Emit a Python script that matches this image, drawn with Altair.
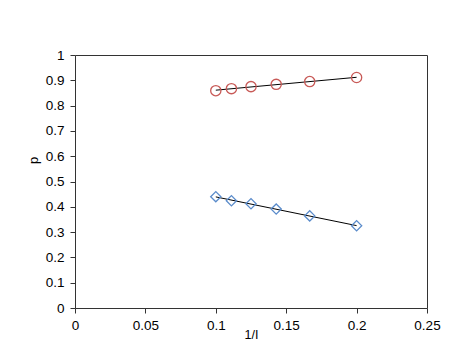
import altair as alt
import pandas as pd

inv_i = [0.1, 0.1111, 0.125, 0.1429, 0.1667, 0.2]
p_upper = [0.859, 0.867, 0.875, 0.884, 0.895, 0.911]
p_lower = [0.440, 0.424, 0.412, 0.391, 0.364, 0.325]
series = ["upper", "lower"]
x_ticks = [0, 0.05, 0.1, 0.15, 0.2, 0.25]
y_ticks = [0, 0.1, 0.2, 0.3, 0.4, 0.5, 0.6, 0.7, 0.8, 0.9, 1]

df = pd.DataFrame({
    "x": inv_i * 2,
    "p": p_upper + p_lower,
    "s": [series[0]] * len(inv_i) + [series[1]] * len(inv_i),
})

font = "Liberation Sans"
ink = "#333"


def xs():
    return alt.Scale(domain=[0, 0.25], nice=False, zero=False)


def ys():
    return alt.Scale(domain=[0, 1], nice=False, zero=False)


xax = alt.Axis(values=x_ticks, format="~g", grid=False,
               tickSize=5, labelPadding=5, domainColor=ink, tickColor=ink,
               labelFont=font, labelFontSize=13.5, labelColor="#000", labelOverlap=False,
               labelFlush=False,
               title="1/I", titleFont=font, titleFontSize=12.5, titleFontWeight="normal",
               titleY=30, titleBaseline="alphabetic", titleColor="#000")
yax = alt.Axis(values=y_ticks, format="~g", grid=False,
               tickSize=5, labelPadding=6, domainColor=ink, tickColor=ink,
               labelFont=font, labelFontSize=13.5, labelColor="#000", labelOverlap=False,
               labelFlush=False,
               title="p", titleFont=font, titleFontSize=13, titleFontWeight="normal",
               titleX=-42, titleY=105, titleAngle=-90, titleAlign="center",
               titleBaseline="middle", titleColor="#000")

base = alt.Chart(df)

lines = base.transform_regression("x", "p", groupby=["s"]).mark_line(
    color="#000", strokeWidth=1
).encode(
    x=alt.X("x:Q", scale=xs(), axis=xax),
    y=alt.Y("p:Q", scale=ys(), axis=yax),
    detail="s:N",
)

upper = base.transform_filter(alt.datum.s == "upper").mark_point(
    shape="circle", size=105, color="#C85A57", strokeWidth=1.3, filled=False, opacity=1
).encode(x=alt.X("x:Q", scale=xs(), axis=None), y=alt.Y("p:Q", scale=ys(), axis=None))

lower = base.transform_filter(alt.datum.s == "lower").mark_point(
    shape="diamond", size=105, color="#5B8CCB", strokeWidth=1.3, filled=False, opacity=1
).encode(x=alt.X("x:Q", scale=xs(), axis=None), y=alt.Y("p:Q", scale=ys(), axis=None))

frame = base.mark_point(opacity=0).encode(
    x=alt.X("x:Q", scale=xs(), axis=alt.Axis(orient="top", labels=False, ticks=False,
                                              title=None, grid=False, domainColor=ink)),
    y=alt.Y("p:Q", scale=ys(), axis=alt.Axis(orient="right", labels=False, ticks=False,
                                              title=None, grid=False, domainColor=ink)),
)

chart = alt.layer(lines, upper, lower, frame).resolve_scale(
    x="independent", y="independent"
).resolve_axis(x="independent", y="independent").properties(
    width=352, height=253,
    autosize=alt.AutoSizeParams(type="none"),
    padding={"left": 67, "top": 47, "right": 36, "bottom": 48},
    background="white",
).configure_view(stroke=None)

chart.save("out.html", embed_options={"renderer": "svg", "actions": False})
